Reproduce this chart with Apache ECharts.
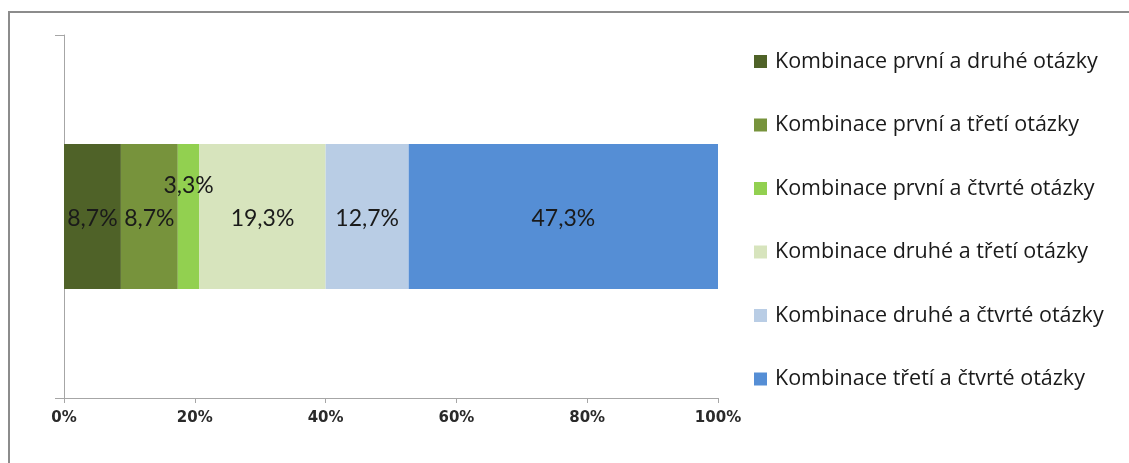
<!DOCTYPE html>
<html>
<head>
<meta charset="utf-8">
<script src="https://cdn.jsdelivr.net/npm/echarts@6/dist/echarts.min.js"></script>
<style>
  html, body { margin: 0; padding: 0; background: #fff; }
  #chart { width: 1129px; height: 463px; }
</style>
</head>
<body>
<div id="chart"></div>
<script>
// Share of answer combinations (percent), one stacked 100% bar
const categories = [''];
const seriesNames = [
  'Kombinace první a druhé otázky',
  'Kombinace první a třetí otázky',
  'Kombinace první a čtvrté otázky',
  'Kombinace druhé a třetí otázky',
  'Kombinace druhé a čtvrté otázky',
  'Kombinace třetí a čtvrté otázky'
];
const seriesValues = [8.7, 8.7, 3.3, 19.3, 12.7, 47.3];
const seriesColors = ['#4F6228', '#77933C', '#92D050', '#D7E4BD', '#B9CDE5', '#558ED5'];
const xTickLabels = ['0%', '20%', '40%', '60%', '80%', '100%'];

const fmt = v => v.toFixed(1).replace('.', ',') + '%';

const chart = echarts.init(document.getElementById('chart'), null, { renderer: 'canvas' });

const series = seriesNames.map((name, i) => ({
  name: name,
  type: 'bar',
  stack: 'total',
  data: [seriesValues[i]],
  barWidth: 145,
  itemStyle: { color: seriesColors[i] },
  label: {
    show: true,
    position: 'inside',
    formatter: p => fmt(p.value),
    fontFamily: 'Lato',
    fontSize: 23,
    color: '#1a1a1a',
    // the narrow segment's label sits higher so it does not collide
    offset: seriesValues[i] < 5 ? [0, -31] : [0, 2]
  },
  emphasis: { disabled: true }
}));

chart.setOption({
  animation: false,
  backgroundColor: '#ffffff',
  graphic: [{
    type: 'polyline',
    shape: { points: [[9, 480], [9, 12], [1140, 12]] },
    style: { fill: 'none', stroke: '#8c8c8c', lineWidth: 2 },
    silent: true
  }],
  grid: { left: 64, right: 411, top: 35, bottom: 65, containLabel: false },
  legend: {
    orient: 'vertical',
    left: 749,
    top: 45,
    padding: 5,
    itemWidth: 13,
    itemHeight: 13,
    itemGap: 40.5,
    icon: 'rect',
    selectedMode: false,
    textStyle: { fontFamily: 'Open Sans', fontSize: 21.5, lineHeight: 23, color: '#1a1a1a', padding: [0, 0, 0, 3] },
    data: seriesNames
  },
  xAxis: {
    type: 'value',
    min: 0,
    max: 100,
    interval: 20,
    splitLine: { show: false },
    axisLine: { show: true, lineStyle: { color: '#a6a6a6', width: 1 } },
    axisTick: { show: true, length: 5, lineStyle: { color: '#a6a6a6' } },
    axisLabel: {
      margin: 13,
      fontFamily: 'DejaVu Sans',
      fontWeight: 'bold',
      fontSize: 15,
      color: '#2a2a2a',
      formatter: v => xTickLabels[Math.round(v / 20)]
    }
  },
  yAxis: {
    type: 'category',
    data: categories,
    axisLine: { show: true, lineStyle: { color: '#a6a6a6', width: 1 } },
    axisTick: { show: true, length: 9, lineStyle: { color: '#a6a6a6' } },
    axisLabel: { show: false }
  },
  series: series
});
</script>
</body>
</html>
